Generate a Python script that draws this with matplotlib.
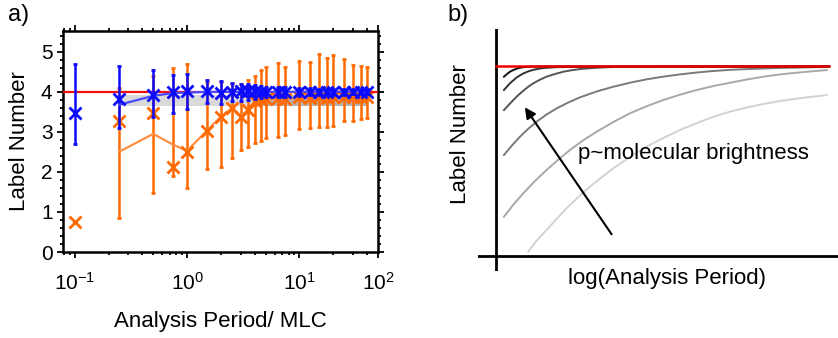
import numpy as np
import matplotlib.pyplot as plt
from matplotlib.ticker import LogLocator, MultipleLocator, NullFormatter

plt.rcParams['font.family'] = ['Liberation Sans', 'DejaVu Sans']
plt.rcParams['mathtext.fontset'] = 'custom'
plt.rcParams['mathtext.rm'] = 'Liberation Sans'
plt.rcParams['mathtext.it'] = 'Liberation Sans:italic'

# panel a: label number vs analysis period
period = [0.1, 0.25, 0.5, 0.75, 1, 1.5, 2, 2.5, 3, 3.5, 4, 4.5, 5, 6.5, 7.5,
          10, 12.5, 15, 17.5, 20, 25, 30, 35, 40]

blue_est = [3.46, 3.82, 3.92, 4.00, 4.01, 4.02, 3.98, 4.00, 4.02, 4.02, 4.01, 4.00,
            4.00, 4.00, 4.00, 4.00, 4.00, 4.00, 4.00, 4.00, 4.00, 4.00, 4.00, 4.00]
blue_lo = [2.70, 3.09, 3.37, 3.48, 3.58, 3.72, 3.69, 3.76, 3.78, 3.80, 3.82, 3.84,
           3.86, 3.87, 3.88, 3.90, 3.91, 3.92, 3.92, 3.93, 3.93, 3.94, 3.94, 3.94]
blue_hi = [4.69, 4.65, 4.55, 4.41, 4.44, 4.29, 4.28, 4.23, 4.20, 4.19, 4.17, 4.15,
           4.13, 4.12, 4.11, 4.10, 4.09, 4.08, 4.08, 4.07, 4.07, 4.06, 4.06, 4.06]
blue_mean = [np.nan, 3.68, 3.90, 3.97, 3.98, 4.00, 4.00, 4.00, 4.00, 4.00, 4.00, 4.00,
             4.00, 4.00, 4.00, 4.00, 4.00, 4.00, 4.00, 4.00, 4.00, 4.00, 4.00, 4.00]

orange_est = [0.76, 3.26, 3.47, 2.13, 2.50, 3.03, 3.38, 3.59, 3.36, 3.55, 3.76, 3.80,
              3.82, 3.84, 3.83, 3.86, 3.85, 3.86, 3.84, 3.86, 3.86, 3.87, 3.86, 3.87]
orange_mean = [np.nan, 2.51, 2.95, 2.68, 2.53, 3.03, 3.38, 3.59, 3.40, 3.55, 3.74, 3.78,
               3.80, 3.82, 3.82, 3.84, 3.84, 3.85, 3.84, 3.85, 3.85, 3.86, 3.86, 3.86]
orange_lo = [np.nan, 0.86, 1.48, 1.91, 1.61, 2.07, 2.13, 2.34, 2.55, 2.62, 2.72, 2.76,
             2.85, 2.87, 2.93, 3.08, 3.09, 3.12, 3.13, 3.15, 3.27, 3.28, 3.32, 3.34]
orange_hi = [np.nan, 4.10, 4.40, 4.59, 4.69, 4.25, 4.25, 4.20, 4.20, 4.30, 4.40, 4.55,
             4.63, 4.73, 4.62, 4.78, 4.74, 4.94, 4.84, 4.93, 4.82, 4.68, 4.65, 4.63]

true_label = 4.0
band_lo, band_hi = 3.65, 3.93

# panel b: schematic curves, darkest (brightest molecules) first
curve_x = [
    [0.024, 0.033, 0.042, 0.052, 0.062, 0.072, 0.082, 0.097, 0.112, 0.152, 0.25, 0.5, 1.0],
    [0.024, 0.042, 0.062, 0.082, 0.097, 0.112, 0.132, 0.152, 0.182, 0.212, 0.5, 1.0],
    [0.024, 0.038, 0.052, 0.067, 0.082, 0.097, 0.112, 0.132, 0.152, 0.177, 0.202,
     0.227, 0.252, 0.302, 0.352, 0.452, 1.0],
    [0.024, 0.048, 0.072, 0.097, 0.122, 0.152, 0.182, 0.217, 0.252, 0.302, 0.352,
     0.402, 0.452, 0.502, 0.552, 0.603, 0.653, 0.703, 0.753, 0.853, 0.993],
    [0.024, 0.052, 0.082, 0.117, 0.152, 0.187, 0.222, 0.262, 0.302, 0.352, 0.402,
     0.452, 0.502, 0.552, 0.603, 0.653, 0.703, 0.753, 0.803, 0.853, 0.903, 0.993],
    [0.097, 0.122, 0.152, 0.182, 0.212, 0.247, 0.282, 0.317, 0.352, 0.402, 0.452,
     0.502, 0.552, 0.603, 0.653, 0.703, 0.753, 0.803, 0.853, 0.923, 0.993],
]
curve_y = [
    [0.944, 0.958, 0.970, 0.979, 0.986, 0.991, 0.994, 0.996, 0.997, 0.998, 0.998, 0.998, 0.998],
    [0.874, 0.909, 0.940, 0.961, 0.972, 0.980, 0.987, 0.991, 0.994, 0.995, 0.997, 0.997],
    [0.768, 0.795, 0.821, 0.847, 0.870, 0.891, 0.909, 0.928, 0.944, 0.958, 0.970,
     0.978, 0.984, 0.991, 0.995, 0.996, 0.997],
    [0.532, 0.582, 0.628, 0.670, 0.707, 0.745, 0.777, 0.808, 0.835, 0.866, 0.891,
     0.912, 0.930, 0.944, 0.956, 0.966, 0.974, 0.980, 0.984, 0.990, 0.995],
    [0.207, 0.270, 0.330, 0.395, 0.453, 0.507, 0.558, 0.609, 0.654, 0.705, 0.751,
     0.788, 0.821, 0.849, 0.874, 0.895, 0.912, 0.929, 0.944, 0.956, 0.965, 0.979],
    [0.023, 0.081, 0.137, 0.195, 0.251, 0.310, 0.365, 0.414, 0.461, 0.521, 0.575,
     0.621, 0.663, 0.700, 0.733, 0.760, 0.782, 0.800, 0.816, 0.833, 0.847],
]
curve_colors = ['#111111', '#333333', '#555555', '#7a7a7a', '#a8a8a8', '#d2d2d2']

BLUE = '#0a0aff'
ORANGE = '#ff6a00'

fig = plt.figure(figsize=(8.38, 3.38), dpi=100)

# ---- panel a ----
ax = fig.add_axes([0.0752, 0.2544, 0.3759, 0.654])
x = np.array(period)

ax.fill_between(x[1:], band_lo, band_hi, color='#d9d9d9', lw=0, zorder=1)
ax.fill_between(x[10:], band_lo, band_hi, color='#b4b4b4', lw=0, zorder=1)

om = np.array(orange_mean)
ax.errorbar(x, om, yerr=[om - np.array(orange_lo), np.array(orange_hi) - om],
            fmt='none', ecolor=ORANGE, elinewidth=1.8, capsize=1.2, capthick=2, zorder=2)
ax.plot(x, om, color='#ff8f45', lw=1.6, zorder=3)
ax.plot(x, orange_est, 'x', color=ORANGE, ms=9, mew=2, zorder=4)

ax.axhline(true_label, color='#ee1111', lw=1.6, zorder=4.5)

be = np.array(blue_est)
ax.errorbar(x, be, yerr=[be - np.array(blue_lo), np.array(blue_hi) - be],
            fmt='none', ecolor=BLUE, elinewidth=1.8, capsize=1.2, capthick=2, zorder=5)
ax.plot(x, blue_mean, color='#4a4aff', lw=1.6, zorder=5)
ax.plot(x, be, 'x', color=BLUE, ms=9, mew=2, zorder=6)

ax.set_xscale('log')
ax.set_xlim(0.0786, 50)
ax.set_ylim(0, 5.52)
ax.set_xticks([0.1, 1, 10, 50])
ax.set_xticklabels(['$10^{-1}$', '$10^{0}$', '$10^{1}$', '$10^{2}$'])
ax.xaxis.set_minor_locator(LogLocator(base=10, subs=np.arange(2, 10)))
ax.xaxis.set_minor_formatter(NullFormatter())
ax.set_yticks([0, 1, 2, 3, 4, 5])
ax.yaxis.set_minor_locator(MultipleLocator(0.2))
ax.tick_params(which='both', direction='out', top=True, right=True, width=1.3,
               labelsize=15)
ax.tick_params(which='major', length=4)
ax.tick_params(which='minor', length=2)
ax.tick_params(axis='x', which='major', pad=10)
for s in ax.spines.values():
    s.set_linewidth(1.8)
ax.set_xlabel('Analysis Period/ MLC', fontsize=16, labelpad=13)
ax.set_ylabel('Label Number', fontsize=16, labelpad=8)

# ---- panel b ----
bx = fig.add_axes([0.5704, 0.1982, 0.4296, 0.716])
bx.set_xlim(-0.054, 1.027)
bx.set_ylim(-0.079, 1.195)
bx.axis('off')
bx.axvline(0, color='black', lw=2)
bx.axhline(0, color='black', lw=2)
for cx, cy, c in zip(curve_x[::-1], curve_y[::-1], curve_colors[::-1]):
    bx.plot(cx, cy, color=c, lw=1.4)
bx.plot([0, 1.0], [1, 1], color='#ee0000', lw=1.8)
bx.annotate('', xy=(0.082, 0.795), xytext=(0.352, 0.102),
            arrowprops=dict(arrowstyle='-|>', color='black', lw=1.5, mutation_scale=16))
bx.text(0.247, 0.542, 'p~molecular brightness', fontsize=16, va='center', ha='left')

fig.text(0.796, 0.1775, 'log(Analysis Period)', fontsize=16, ha='center', va='center')
fig.text(0.549, 0.604, 'Label Number', fontsize=16, rotation=90, ha='center', va='center')

fig.text(0.009, 0.955, 'a)', fontsize=17, ha='left', va='center')
fig.text(0.534, 0.955, 'b)', fontsize=17, ha='left', va='center')

fig.savefig('out.png', dpi=100)
